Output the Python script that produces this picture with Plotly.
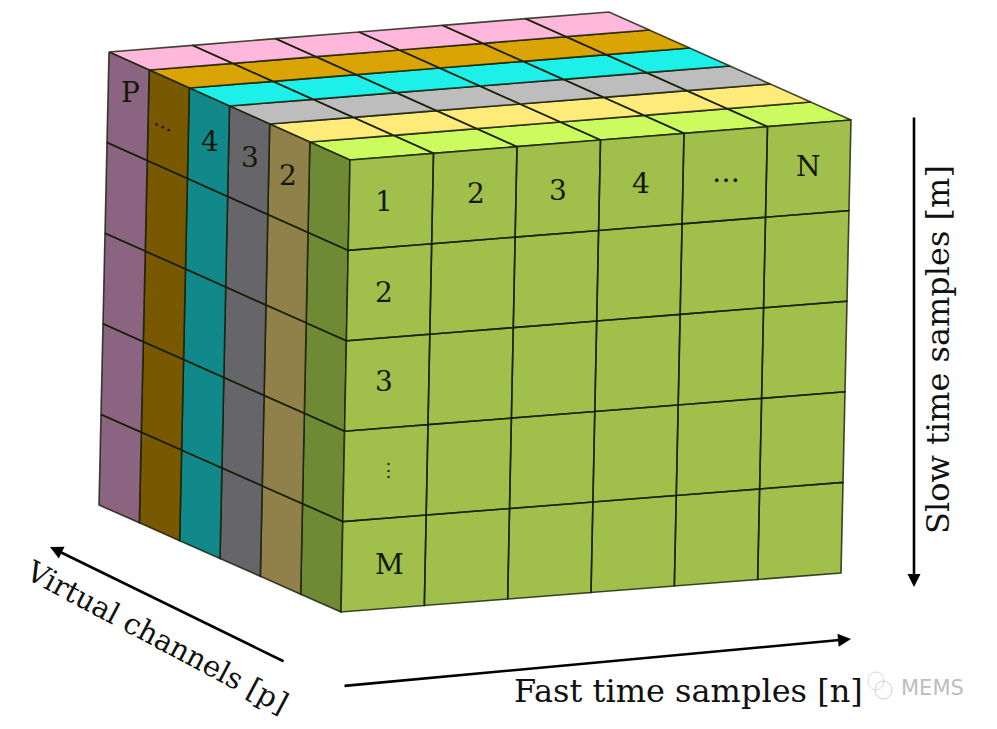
import plotly.graph_objects as go

# cube corners (pixels)
front_tl = (350, 160)
front_tr = (851, 120)
front_bl = (341, 612)
front_br = (841, 573)
back_tl = (109, 52)
back_tr = (609, 12)
back_bl = (99, 505)

n_cols = 6
n_rows = 5
n_strips = 6

# colours of the channel strips, front to back
top_colors = ["#ccfb60", "#ffeb7a", "#bdbdbd", "#1df0e8", "#d9a404", "#ffb8dc"]
side_colors = ["#6e8a34", "#8f8149", "#66666a", "#11898a", "#785800", "#8a6480"]
front_color = "#a0c04b"
edge_color = "rgba(20,28,5,0.8)"

front_col_labels = ["1", "2", "3", "4", "…", "N"]
front_col_x = [384, 476, 558, 641, 726, 808]
front_col_y = [201, 193, 190, 183, 172, 166]
front_row_labels = ["2", "3", "⋮", "M"]
front_row_x = [384, 384, 388, 389]
front_row_y = [292, 381, 470, 564]
front_row_size = [28, 28, 19, 28]
side_labels = ["P", "…", "4", "3", "2"]
side_x = [130, 165, 210, 250, 288]
side_y = [92, 122, 141, 157, 175]
side_angle = [0, 25, 0, 0, 0]
side_size = [28, 20, 28, 28, 28]


def lerp(a, b, t):
    return (a[0] + (b[0] - a[0]) * t, a[1] + (b[1] - a[1]) * t)


def face_point(tl, tr, bl, br, u, v):
    return lerp(lerp(tl, tr, u), lerp(bl, br, u), v)


def cell_path(tl, tr, bl, br, u0, u1, v0, v1):
    corners = [(u0, v0), (u1, v0), (u1, v1), (u0, v1), (u0, v0)]
    pts = [face_point(tl, tr, bl, br, u, v) for u, v in corners]
    return [p[0] for p in pts] + [None], [p[1] for p in pts] + [None]


def add_cells(fig, color, cells):
    xs, ys = [], []
    for x, y in cells:
        xs.extend(x)
        ys.extend(y)
    fig.add_trace(go.Scatter(
        x=xs, y=ys, mode="lines", fill="toself", fillcolor=color,
        line=dict(color=edge_color, width=1.6), hoverinfo="skip", showlegend=False,
    ))


fig = go.Figure()

# top face, one trace per strip
for s in range(n_strips):
    cells = [
        cell_path(back_tl, back_tr, front_tl, front_tr, c / n_cols, (c + 1) / n_cols,
                  1 - (s + 1) / n_strips, 1 - s / n_strips)
        for c in range(n_cols)
    ]
    add_cells(fig, top_colors[s], cells)

# left face
for s in range(n_strips):
    cells = [
        cell_path(back_tl, front_tl, back_bl, front_bl, 1 - (s + 1) / n_strips, 1 - s / n_strips,
                  r / n_rows, (r + 1) / n_rows)
        for r in range(n_rows)
    ]
    add_cells(fig, side_colors[s], cells)

# front face
add_cells(fig, front_color, [
    cell_path(front_tl, front_tr, front_bl, front_br, c / n_cols, (c + 1) / n_cols,
              r / n_rows, (r + 1) / n_rows)
    for c in range(n_cols) for r in range(n_rows)
])


def label(text, x, y, size=28, angle=0, color="#14180a"):
    fig.add_annotation(x=x, y=y, text=text, showarrow=False, textangle=angle,
                       font=dict(family="DejaVu Serif", size=size, color=color))


for t, x, y in zip(front_col_labels, front_col_x, front_col_y):
    label(t, x, y)
for t, x, y, sz in zip(front_row_labels, front_row_x, front_row_y, front_row_size):
    label(t, x, y, size=sz)
for t, x, y, a, sz in zip(side_labels, side_x, side_y, side_angle, side_size):
    label(t, x, y, size=sz, angle=a)

# axis titles
label("Fast time samples [n]", 688, 691, size=32, color="#111111")
label("Slow time samples [m]", 938, 350, size=32, angle=-90, color="#111111")
label("Virtual channels [p]", 157, 637, size=29, angle=28, color="#111111")

# axis arrows
for start, end in [((343, 686), (851, 639)), ((914, 116), (914, 587)), ((285, 662), (50, 547))]:
    fig.add_annotation(
        x=end[0], y=end[1], ax=start[0], ay=start[1], xref="x", yref="y", axref="x", ayref="y",
        text="", showarrow=True, arrowhead=2, arrowsize=1, arrowwidth=2.6, arrowcolor="#000000",
    )

# watermark
fig.add_shape(type="circle", x0=868, y0=672, x1=884, y1=690, line=dict(color="#d8d8d8", width=1))
fig.add_shape(type="circle", x0=875, y0=681, x1=892, y1=699, line=dict(color="#d0d0d0", width=1))
fig.add_annotation(x=932, y=688, text="MEMS", showarrow=False,
                   font=dict(family="DejaVu Sans", size=21, color="#bdbdbd"))

# the page body has an 8px margin, so the axes start at 8 to keep picture pixels
fig.update_layout(
    width=981, height=713,
    margin=dict(l=0, r=0, t=0, b=0),
    paper_bgcolor="white", plot_bgcolor="white",
    xaxis=dict(range=[8, 989], visible=False),
    yaxis=dict(range=[721, 8], visible=False),
)

fig.write_html("out.html")
